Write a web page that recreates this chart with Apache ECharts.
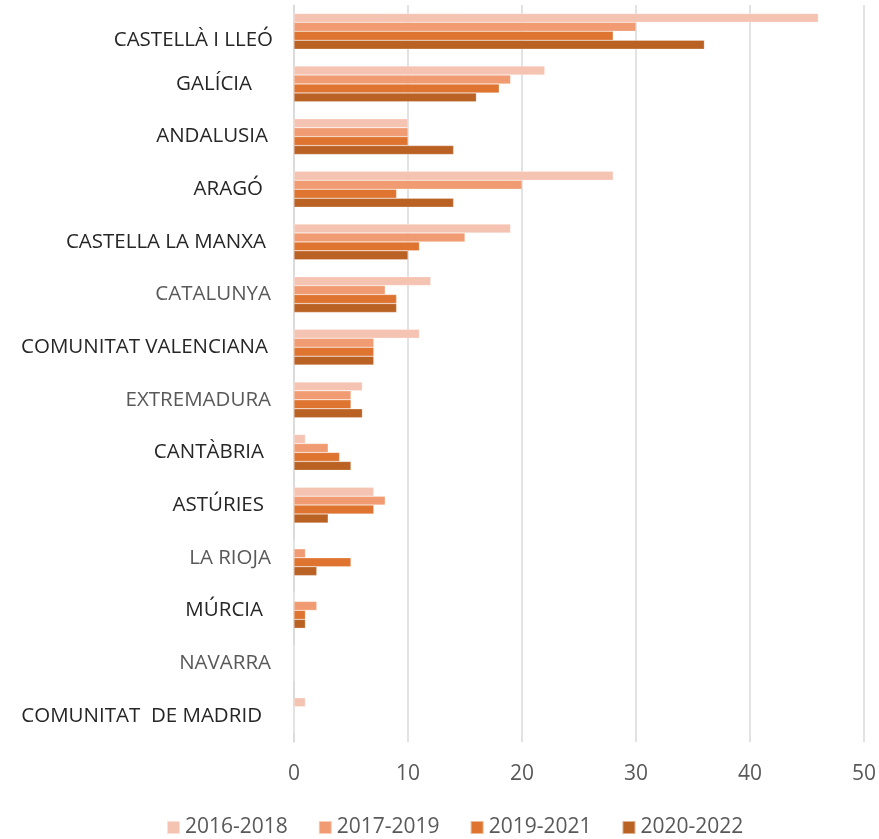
<!DOCTYPE html>
<html>
<head>
<meta charset="utf-8">
<script src="https://cdn.jsdelivr.net/npm/echarts@6/dist/echarts.min.js"></script>
<style>
html,body{margin:0;padding:0;background:#fff;}
#chart{width:879px;height:839px;}
</style>
</head>
<body>
<div id="chart"></div>
<script>
const categories = ["CASTELLÀ I LLEÓ","GALÍCIA","ANDALUSIA","ARAGÓ","CASTELLA LA MANXA","CATALUNYA","COMUNITAT VALENCIANA","EXTREMADURA","CANTÀBRIA","ASTÚRIES","LA RIOJA","MÚRCIA","NAVARRA","COMUNITAT  DE MADRID"];
const seriesNames = ["2016-2018","2017-2019","2019-2021","2020-2022"];
const v2016_2018 = [46,22,10,28,19,12,11,6,1,7,0,0,0,1];
const v2017_2019 = [30,19,10,20,15,8,7,5,3,8,1,2,0,0];
const v2019_2021 = [28,18,10,9,11,9,7,5,4,7,5,1,0,0];
const v2020_2022 = [36,16,14,14,10,9,7,6,5,3,2,1,0,0];
const xTicks = [0,10,20,30,40,50];

const colors = ['#F5C3B2','#F09B72','#DE7430','#BA6124'];
const grayLabels = ["CATALUNYA","EXTREMADURA","LA RIOJA","NAVARRA"];
const rightPad = [21,42,26,31,28,23,26,23,30,30,23,31,23,32];
const topPad = [18,0,0,0,0,0,0,0,0,0,0,0,0,0];

const values = [v2016_2018, v2017_2019, v2019_2021, v2020_2022];

const rich = {};
categories.forEach((c,i)=>{
  rich['l'+i] = {
    color: grayLabels.includes(c)?'#595959':'#262626',
    fontSize:20.5,fontFamily:'Open Sans',
    padding:[topPad[i],rightPad[i],0,0]
  };
});

const chart = echarts.init(document.getElementById('chart'));
chart.setOption({
  animation:false,
  grid:{left:294,right:13,top:5,bottom:97,containLabel:false},
  legend:{
    bottom:-4,left:161,
    itemWidth:13,itemHeight:13,itemGap:30,
    icon:'rect',
    textStyle:{color:'#595959',fontSize:21,fontFamily:'Open Sans'},
    data:seriesNames
  },
  xAxis:{
    type:'value',min:0,max:50,interval:10,
    axisLine:{show:false},axisTick:{show:false},
    axisLabel:{color:'#595959',fontSize:21,fontFamily:'Open Sans',margin:22,
      formatter:(v)=> xTicks.includes(v)? String(v):''},
    splitLine:{lineStyle:{color:'#d9d9d9',width:1.5}}
  },
  yAxis:{
    type:'category',inverse:true,
    data:categories,
    axisLine:{show:true,lineStyle:{color:'#d9d9d9',width:1.5}},
    axisTick:{show:false},
    axisLabel:{margin:0,rich:rich,
      formatter:(v)=>{ const i = categories.indexOf(v); return '{l'+i+'|'+v+'}'; }
    }
  },
  series: seriesNames.map((n,i)=>({
    name:n,type:'bar',data:values[i],
    barGap:'0%',barCategoryGap:'32%',
    itemStyle:{color:colors[i],borderColor:'rgba(255,255,255,0.5)',borderWidth:0.5}
  }))
});
</script>
</body>
</html>
